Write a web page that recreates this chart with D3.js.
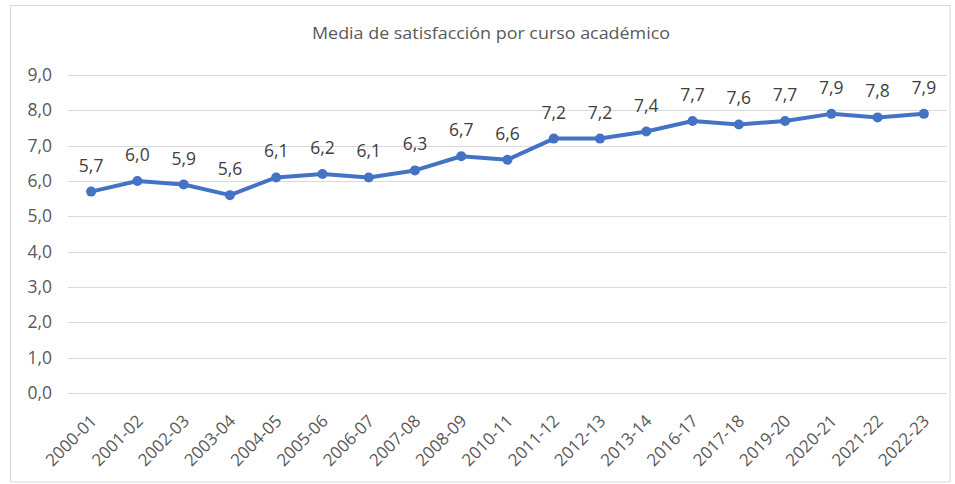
<!DOCTYPE html>
<html>
<head>
<meta charset="utf-8">
<script src="https://cdn.jsdelivr.net/npm/d3@7"></script>
<style>
  body { margin: 0; background: #fff; }
  svg { display: block; font-family: "Open Sans", sans-serif; }
</style>
</head>
<body>
<svg width="955" height="484"></svg>
<script>
var cursos = ['2000-01', '2001-02', '2002-03', '2003-04', '2004-05', '2005-06', '2006-07', '2007-08',
  '2008-09', '2010-11', '2011-12', '2012-13', '2013-14', '2016-17', '2017-18', '2019-20',
  '2020-21', '2021-22', '2022-23'];
var media = [5.7, 6.0, 5.9, 5.6, 6.1, 6.2, 6.1, 6.3, 6.7, 6.6, 7.2, 7.2, 7.4, 7.7, 7.6, 7.7, 7.9, 7.8, 7.9];
var yTicks = [0, 1, 2, 3, 4, 5, 6, 7, 8, 9];
var titulo = 'Media de satisfacción por curso académico';

var svg = d3.select('svg'),
  margin = {top: 75, right: 8, bottom: 91, left: 68},
  width = +svg.attr('width') - margin.left - margin.right,
  height = +svg.attr('height') - margin.top - margin.bottom;

var fmt = function(v) { return d3.format('.1f')(v).replace('.', ','); };

// chart border
svg.append('rect')
  .attr('x', 10.5).attr('y', 5.5)
  .attr('width', 955 - 10.5 - 5).attr('height', 484 - 5.5 - 2)
  .attr('fill', 'none')
  .attr('stroke', '#d9d9d9');

svg.append('text')
  .attr('x', 491).attr('y', 39)
  .attr('text-anchor', 'middle')
  .attr('font-size', 16)
  .attr('fill', '#595959')
  .attr('textLength', 358)
  .attr('lengthAdjust', 'spacingAndGlyphs')
  .text(titulo);

var x = d3.scalePoint().domain(cursos).range([0, width]).padding(0.5),
    y = d3.scaleLinear().domain([0, 9]).range([height, 0]);

var g = svg.append('g')
  .attr('transform', 'translate(' + margin.left + ',' + margin.top + ')');

// grid
g.selectAll('.grid')
  .data(yTicks)
  .enter().append('line')
  .attr('class', 'grid')
  .attr('x1', 0).attr('x2', width)
  .attr('y1', function(d) { return Math.round(y(d)) + 0.5; })
  .attr('y2', function(d) { return Math.round(y(d)) + 0.5; })
  .attr('stroke', '#d9d9d9')
  .attr('stroke-width', 1);

var yAxis = g.append('g')
  .call(d3.axisLeft(y).tickValues(yTicks).tickFormat(fmt).tickSize(0).tickPadding(16));
yAxis.select('.domain').remove();
yAxis.selectAll('text')
  .attr('font-size', 17.5)
  .attr('fill', '#595959')
  .attr('font-family', '"Open Sans", sans-serif');

var xAxis = g.append('g')
  .attr('transform', 'translate(0,' + height + ')')
  .call(d3.axisBottom(x).tickSize(0));
xAxis.select('.domain').remove();
xAxis.selectAll('text')
  .attr('font-size', 17)
  .attr('font-family', '"Open Sans", sans-serif')
  .attr('fill', '#595959')
  .attr('text-anchor', 'end')
  .attr('dy', 0)
  .attr('transform', 'translate(4,27) rotate(-45)');

var line = d3.line()
  .x(function(d, i) { return x(cursos[i]); })
  .y(function(d) { return y(d); });

g.append('path')
  .datum(media)
  .attr('fill', 'none')
  .attr('stroke', '#4472c4')
  .attr('stroke-width', 4)
  .attr('stroke-linejoin', 'round')
  .attr('d', line);

g.selectAll('.dot')
  .data(media)
  .enter().append('circle')
  .attr('class', 'dot')
  .attr('cx', function(d, i) { return x(cursos[i]); })
  .attr('cy', function(d) { return y(d); })
  .attr('r', 5)
  .attr('fill', '#4472c4');

g.selectAll('.label')
  .data(media)
  .enter().append('text')
  .attr('class', 'label')
  .attr('x', function(d, i) { return x(cursos[i]); })
  .attr('y', function(d) { return y(d) - 20; })
  .attr('text-anchor', 'middle')
  .attr('font-size', 17.5)
  .attr('fill', '#404040')
  .text(fmt);
</script>
</body>
</html>
